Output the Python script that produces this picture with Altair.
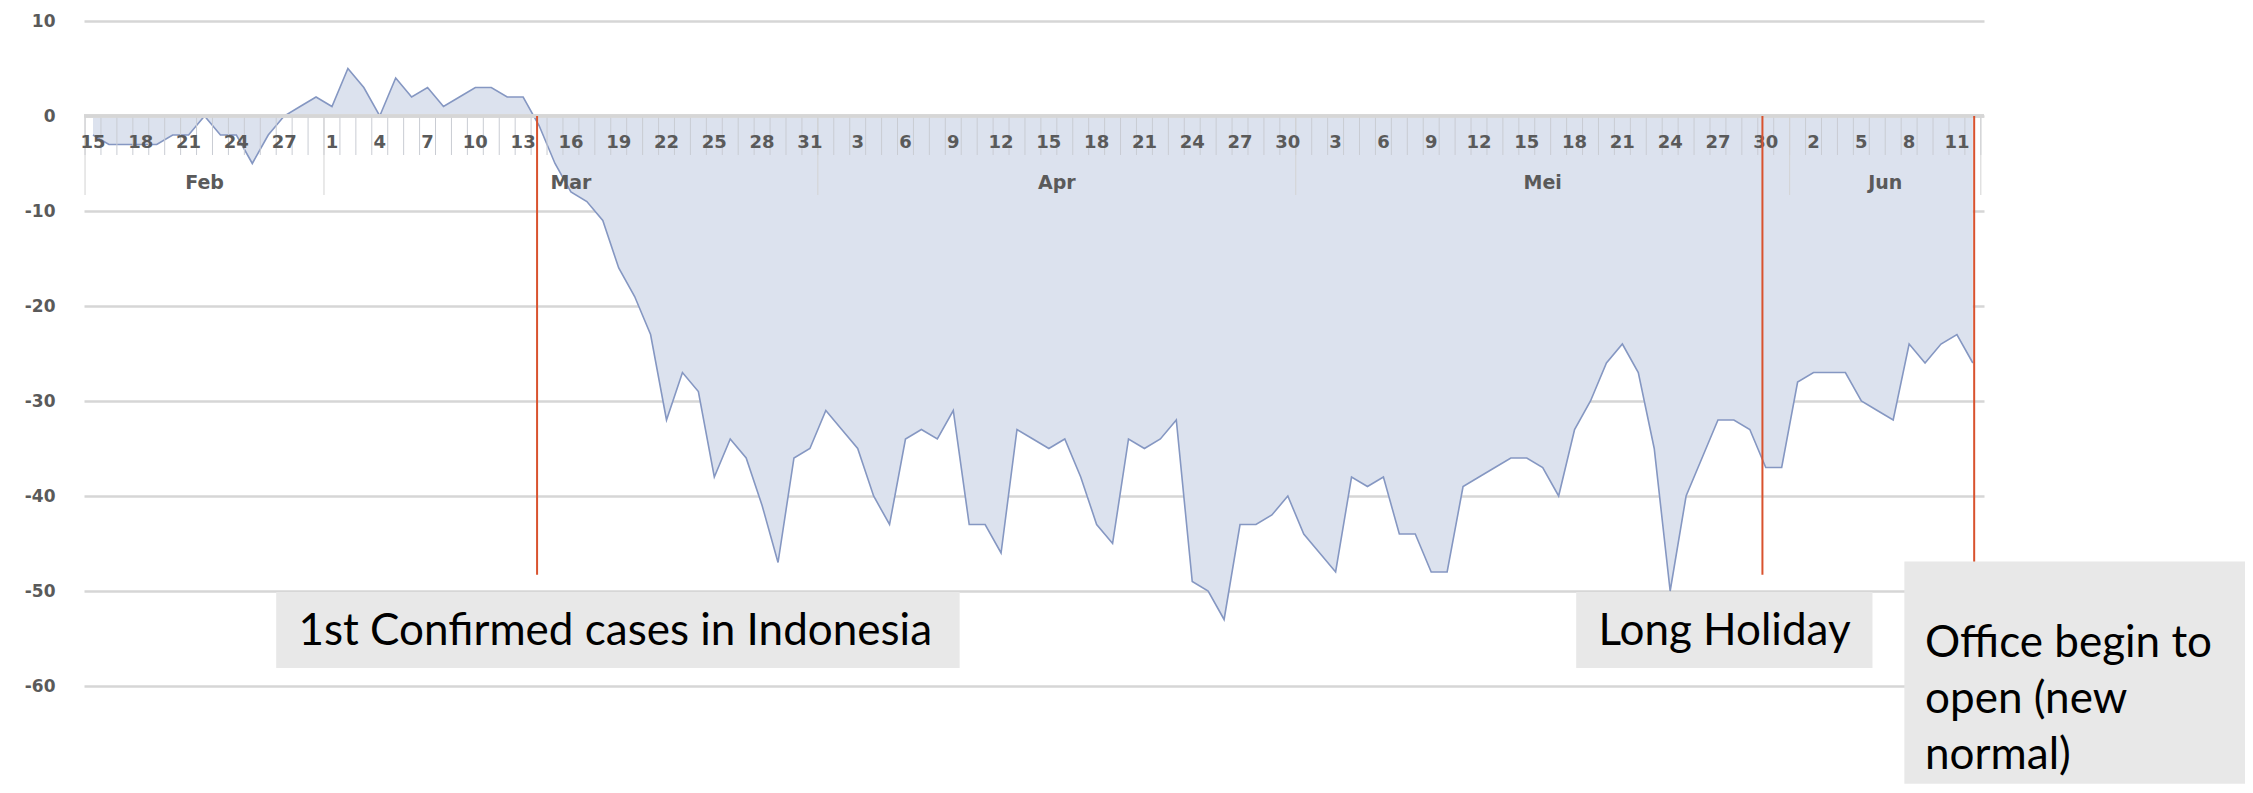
import altair as alt
import pandas as pd

# ---------------- data ----------------
values = [
    # Feb 15 - Feb 29
    -2, -3, -3, -3, -3, -2, -2, 0, -2, -2, -5, -2, 0, 1, 2,
    # Mar 1 - Mar 31
    1, 5, 3, 0, 4, 2, 3, 1, 2, 3, 3, 2, 2, -1, -5, -8, -9, -11, -16, -19,
    -23, -32, -27, -29, -38, -34, -36, -41, -47, -36, -35,
    # Apr 1 - Apr 30
    -31, -33, -35, -40, -43, -34, -33, -34, -31, -43, -43, -46, -33, -34, -35,
    -34, -38, -43, -45, -34, -35, -34, -32, -49, -50, -53, -43, -43, -42, -40,
    # May 1 - May 31
    -44, -46, -48, -38, -39, -38, -44, -44, -48, -48, -39, -38, -37, -36, -36,
    -37, -40, -33, -30, -26, -24, -27, -35, -50, -40, -36, -32, -32, -33, -37, -37,
    # Jun 1 - Jun 12
    -28, -27, -27, -27, -30, -31, -32, -24, -26, -24, -23, -26,
]
start_date = "2020-02-15"
day_labels = ["15", "18", "21", "24", "27", "1", "4", "7", "10", "13", "16", "19",
              "22", "25", "28", "31", "3", "6", "9", "12", "15", "18", "21", "24",
              "27", "30", "3", "6", "9", "12", "15", "18", "21", "24", "27", "30",
              "2", "5", "8", "11"]
month_names = ["Feb", "Mar", "Apr", "Mei", "Jun"]
y_ticks = [-60, -50, -40, -30, -20, -10, 0, 10]

event_times = ["2020-03-13 21:00", "2020-05-29 19:00", "2020-06-12 02:00"]
event_bottom = -48.3

note_texts = ["1st Confirmed cases in Indonesia", "Long Holiday",
              "Office begin to\nopen (new\nnormal)"]
note_box_from = [11.5, 93.1, 113.7]     # day index
note_box_to = [54.4, 111.7, 135.1]
note_box_top = [-50.1, -50.1, -46.9]
note_box_bottom = [-58.1, -58.1, -70.3]
note_text_x = [12.9, 94.5, 115.0]
note_text_y = [-54.3, -54.3, -55.6]

# ---------------- tables ----------------
start = pd.Timestamp(start_date)
dates = pd.date_range(start, periods=len(values), freq="D")
df = pd.DataFrame({"day": list(range(len(values))), "value": values, "zero": 0})

tick_df = pd.DataFrame({"day": [i * 3 for i in range(len(day_labels))],
                        "label": day_labels, "zero": 0})

bounds = ([-0.5]
          + [i - 0.5 for i in range(1, len(dates)) if dates[i].month != dates[i - 1].month]
          + [len(dates) - 0.5])
sep_df = pd.DataFrame({"day": bounds, "zero": 0})
month_df = pd.DataFrame({"day": [(bounds[i] + bounds[i + 1]) / 2 for i in range(len(month_names))],
                         "label": month_names, "zero": 0})
minor_df = pd.DataFrame({"day": [i - 0.5 for i in range(len(values) + 1)], "zero": 0})

ev_df = pd.DataFrame({
    "day": [(pd.Timestamp(t) - start) / pd.Timedelta(days=1) for t in event_times],
    "zero": 0, "bottom": event_bottom})

box_df = pd.DataFrame({"x1": note_box_from, "x2": note_box_to,
                       "y1": note_box_top, "y2": note_box_bottom})
note_df = pd.DataFrame({"x": note_text_x, "y": note_text_y, "text": note_texts})

# ---------------- scales / axes ----------------
xs = alt.Scale(domain=[-0.565, 118.7], nice=False, zero=False)
ys = alt.Scale(domain=[-60, 10], nice=False, zero=False)

label_font = "DejaVu Sans"
label_color = "#5a5a5a"
grid_color = "#d6d6d6"

yaxis = alt.Axis(
    values=y_ticks, grid=True, gridColor=grid_color, gridWidth=2.5,
    domain=False, ticks=False, labelPadding=29, title=None,
    labelExpr="'' + datum.value",
    labelFont=label_font, labelFontWeight="bold", labelFontSize=17,
    labelColor=label_color)


def X(field):
    return alt.X(field, scale=xs, axis=None)


def Y(field):
    return alt.Y(field, scale=ys, axis=yaxis)


area = alt.Chart(df).mark_area(color="#dce2ee", opacity=1).encode(
    x=X("day:Q"), y=Y("value:Q"), y2="zero:Q",
)

line = alt.Chart(df).mark_line(color="#8597c2", strokeWidth=1.6).encode(
    x=X("day:Q"), y=Y("value:Q"),
)

zero_line = alt.Chart(df).mark_rule(color=grid_color, strokeWidth=2.5).encode(
    x=alt.value(0), x2=alt.value(1900), y=Y("zero:Q"),
)

minor_ticks = alt.Chart(minor_df).mark_rule(color="#c9ccd3", strokeWidth=1).encode(
    x=X("day:Q"), y=Y("zero:Q"), y2=alt.value(134),
)

month_seps = alt.Chart(sep_df).mark_rule(color="#d3d3d3", strokeWidth=1).encode(
    x=X("day:Q"), y=Y("zero:Q"), y2=alt.value(174),
)

day_text = alt.Chart(tick_df).mark_text(
    dy=27, font=label_font, fontWeight="bold", fontSize=18, color=label_color,
    align="center", baseline="middle").encode(
    x=X("day:Q"), y=Y("zero:Q"), text="label:N",
)

month_text = alt.Chart(month_df).mark_text(
    dy=67, font=label_font, fontWeight="bold", fontSize=19, color=label_color,
    align="center", baseline="middle").encode(
    x=X("day:Q"), y=Y("zero:Q"), text="label:N",
)

events = alt.Chart(ev_df).mark_rule(color="#d9522e", strokeWidth=2).encode(
    x=X("day:Q"), y=Y("zero:Q"), y2="bottom:Q",
)

boxes = alt.Chart(box_df).mark_rect(color="#e8e8e8").encode(
    x=X("x1:Q"), x2="x2:Q", y=Y("y1:Q"), y2="y2:Q",
)

notes = alt.Chart(note_df).mark_text(
    align="left", baseline="middle", font="Lato", fontSize=44, color="#000000",
    lineBreak="\n", lineHeight=56).encode(
    x=X("x:Q"), y=Y("y:Q"), text="text:N",
)

chart = alt.layer(
    area, line, minor_ticks, month_seps, zero_line, day_text, month_text,
    events, boxes, notes,
).properties(
    width=1900, height=665,
    autosize=alt.AutoSizeParams(type="none"),
    padding={"left": 76, "top": 13, "right": 261, "bottom": 99},
    background="white",
).configure_view(stroke=None)

chart.save("out.html", embed_options={"renderer": "svg", "actions": False})
